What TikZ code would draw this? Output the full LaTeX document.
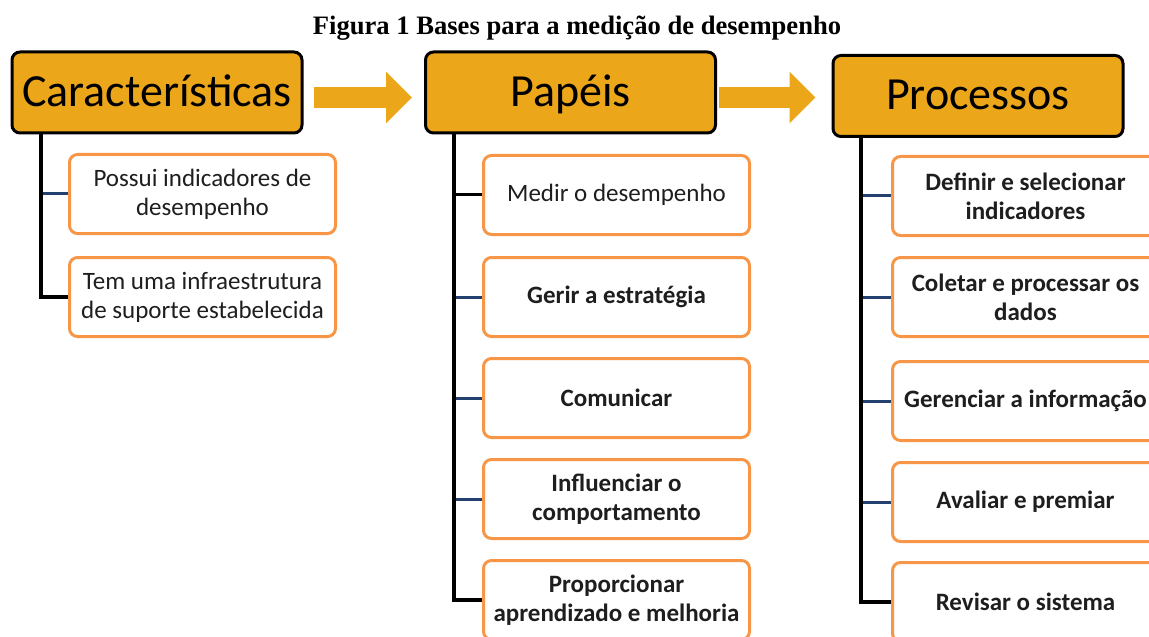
\documentclass[tikz,border=0pt]{standalone}
\usepackage{fontspec}
\setmainfont{Carlito}
\newfontfamily\titlefont{Liberation Serif}
\usetikzlibrary{arrows.meta}

\definecolor{hdrfill}{RGB}{235,166,26}
\definecolor{boxorange}{RGB}{247,150,70}
\definecolor{textdark}{RGB}{30,30,30}
\definecolor{branchnavy}{RGB}{36,64,110}

\tikzset{
  hdr/.style={draw=black, line width=1.5pt, fill=hdrfill, rounded corners=4pt,
    minimum width=145pt, minimum height=40.5pt, inner sep=0pt,
    text height=17pt, text depth=3pt,
    font=\fontsize{23}{27}\selectfont},
  itembox/.style={draw=boxorange, line width=1.5pt, fill=white, rounded corners=4pt,
    minimum width=133pt, minimum height=39.5pt, inner sep=1pt, align=center,
    text=textdark, font=\fontsize{12.5}{14.5}\selectfont},
  itembold/.style={itembox, font=\bfseries\fontsize{12.5}{14.5}\selectfont},
  trunk/.style={line width=2pt, black},
  branch/.style={line width=1.5pt, branchnavy},
  bigarrow/.style={line width=10.5pt, hdrfill, -{Triangle[length=13pt, width=25pt]}}
}

\begin{document}
\begin{tikzpicture}[x=0.5pt, y=-0.5pt]

    \useasboundingbox (0,0) rectangle (1149,636);
    \clip (0,0) rectangle (1149,636);

    % Title
    \node (title) at (577,28) {\titlefont\bfseries\fontsize{13.3}{15}\selectfont Figura 1 Bases para a medição de desempenho};

    % Headers
    \node[hdr] (h1) at (157,92.5) {Características};
    \node[hdr] (h2) at (570.5,92.5) {Papéis};
    \node[hdr] (h3) at (978,96) {Processos};

    % Arrows between headers
    \draw[bigarrow] ([xshift=5pt,yshift=-2.5pt]h1.east) -- ([xshift=-6pt,yshift=-2.5pt]h2.west);
    \draw[bigarrow] ([xshift=1pt,yshift=-2.5pt]h2.east) -- ([xshift=-8pt,yshift=-0.75pt]h3.west);

    % Column 1: Caracteristicas
    \node[itembox] (c1a) at (202.5,194) {Possui indicadores de\\desempenho};
    \node[itembox] (c1b) at (202.5,297) {Tem uma infraestrutura\\de suporte estabelecida};

    % Column 2: Papeis
    \node[itembox] (c2a) at (616.5,195) {Medir o desempenho};
    \node[itembold] (c2b) at (616.5,297) {Gerir a estratégia};
    \node[itembold] (c2c) at (616.5,398) {Comunicar};
    \node[itembold] (c2d) at (616.5,499) {Influenciar o\\comportamento};
    \node[itembold] (c2e) at (616.5,600) {Proporcionar\\aprendizado e melhoria};

    % Column 3: Processos
    \node[itembold] (c3a) at (1025.5,196) {Definir e selecionar\\indicadores};
    \node[itembold] (c3b) at (1025.5,297) {Coletar e processar os\\dados};
    \node[itembold] (c3c) at (1025.5,401) {Gerenciar a informação};
    \node[itembold] (c3d) at (1025.5,502) {Avaliar e premiar};
    \node[itembold] (c3e) at (1025.5,602) {Revisar o sistema};

    % Trunk start points
    \coordinate (t1) at ([xshift=15pt]h1.south west);
    \coordinate (t2) at ([xshift=15pt]h2.south west);
    \coordinate (t3) at ([xshift=14.5pt]h3.south west);

    % Branches
    \draw[branch] (c1a.west) -- (c1a.west -| t1);
    \draw[trunk, line width=1.5pt] (c2a.west) -- (c2a.west -| t2);
    \draw[branch] (c2b.west) -- (c2b.west -| t2);
    \draw[branch] (c2c.west) -- (c2c.west -| t2);
    \draw[branch] (c2d.west) -- (c2d.west -| t2);
    \draw[branch] (c3a.west) -- (c3a.west -| t3);
    \draw[branch] (c3b.west) -- (c3b.west -| t3);
    \draw[branch] (c3c.west) -- (c3c.west -| t3);
    \draw[branch] (c3d.west) -- (c3d.west -| t3);

    % Trunks
    \draw[trunk] (t1) |- (c1b.west);
    \draw[trunk] (t2) |- (c2e.west);
    \draw[trunk] (t3) |- (c3e.west);

\end{tikzpicture}
\end{document}
